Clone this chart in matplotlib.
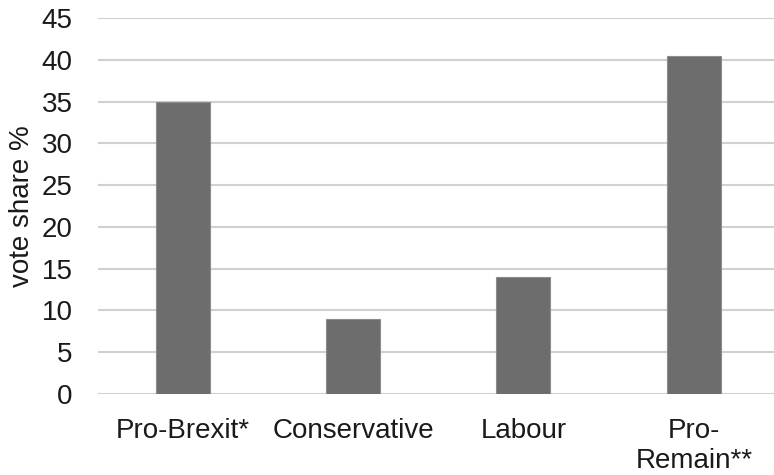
import matplotlib
matplotlib.use("Agg")
import matplotlib.pyplot as plt
import numpy as np

# vote share by party group
parties = ["Pro-Brexit*", "Conservative", "Labour", "Pro-\nRemain**"]
vote_share = [35, 9, 14, 40.5]
y_ticks = [0, 5, 10, 15, 20, 25, 30, 35, 40, 45]

plt.rcParams['font.family'] = ['Liberation Sans', 'DejaVu Sans']

fig = plt.figure(figsize=(7.74, 4.75), dpi=100)
ax = fig.add_axes([97.5 / 774, 81 / 475, 681.5 / 774, 376 / 475])

x = np.arange(len(parties))
ax.bar(x, vote_share, width=0.317, color="#6d6d6d", edgecolor="#8c8c8c",
       linewidth=0.8, zorder=3)

ax.set_ylim(0, 45)
ax.set_xlim(-0.5, len(parties) - 0.5)
ax.set_yticks(y_ticks)
ax.set_xticks(x)
ax.set_xticklabels(parties, linespacing=1.2)
ax.grid(axis="y", color="#d0d0d0", linewidth=1.5, zorder=0)
ax.set_axisbelow(True)

for s in ax.spines.values():
    s.set_visible(False)
ax.tick_params(axis="both", length=0, labelsize=20, colors="#1a1a1a")
ax.tick_params(axis="y", pad=18)
ax.tick_params(axis="x", pad=17)

ax.set_ylabel("vote share %", fontsize=20, color="#1a1a1a")
ax.yaxis.set_label_coords(-0.092, 0.5)

fig.savefig("out.png", dpi=100)
